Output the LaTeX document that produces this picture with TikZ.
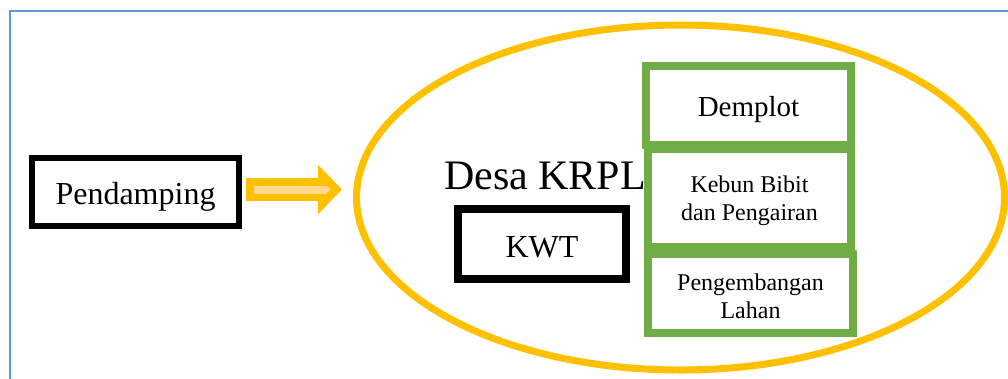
\documentclass[tikz,border=0pt]{standalone}
\usepackage{fontspec}
\setmainfont{Liberation Serif}
\usetikzlibrary{shapes.geometric,arrows.meta}
\definecolor{bordblue}{HTML}{5B9BD5}
\definecolor{gold}{HTML}{FFC000}
\definecolor{lightgold}{HTML}{FFD98A}
\definecolor{leaf}{HTML}{70AD47}
\begin{document}
\begin{tikzpicture}[x=1pt,y=-1pt,
  blackbox/.style={draw=black, fill=white, inner sep=0pt, rectangle, text depth=0pt},
  greenbox/.style={draw=leaf, line width=8pt, fill=white, inner sep=0pt, rectangle, align=center},
  bigtext/.style={font=\fontsize{32pt}{38pt}\selectfont},
  smalltext/.style={font=\fontsize{24pt}{27.5pt}\selectfont}]
\useasboundingbox (0,0) rectangle (1008,378);
\clip (0,0) rectangle (1008,378);
\fill[white] (0,0) rectangle (1008,378);
\draw[bordblue, line width=2pt] (10,390) -- (10,11) -- (1020,11);

\node[ellipse, draw=gold, line width=7pt, minimum width=648pt, minimum height=345pt, inner sep=0pt] (desa) at (680.5,197.5) {};

\node[blackbox, line width=6pt, minimum width=207pt, minimum height=68pt, bigtext, text height=24pt] (pend) at (135.5,192) {Pendamping};

\coordinate (arrS) at ([yshift=2.5pt]pend.east);
\coordinate (arrE) at (arrS -| desa.west);
\draw[gold, line width=23pt, -{Triangle[length=24pt,width=48pt]}, shorten <=4pt, shorten >=11pt] (arrS) -- (arrE);
\draw[lightgold, line width=8pt, -{Triangle[length=5pt,width=8pt]}, shorten <=12pt, shorten >=22pt] (arrS) -- (arrE);

\node[greenbox, minimum width=205pt, minimum height=79pt, font=\fontsize{29pt}{34pt}\selectfont, text height=21pt, text depth=0pt] (demplot) at (748.5,105.5) {Demplot};
\node[greenbox, minimum width=203pt, minimum height=98pt, smalltext] (kebun) at (749.5,198) {\rule{0pt}{22.5pt}Kebun Bibit\\dan Pengairan};
\node[greenbox, minimum width=205pt, minimum height=79pt, smalltext] (lahan) at (750.5,293.5) {\rule{0pt}{22.5pt}Pengembangan\\Lahan};

\node[blackbox, line width=8pt, minimum width=168pt, minimum height=70pt, bigtext, text height=26pt] (kwt) at (542,244) {KWT};

\node[anchor=base, inner sep=0pt, font=\fontsize{42pt}{50pt}\selectfont] (desalbl) at (545,189) {Desa KRPL};
\end{tikzpicture}
\end{document}
